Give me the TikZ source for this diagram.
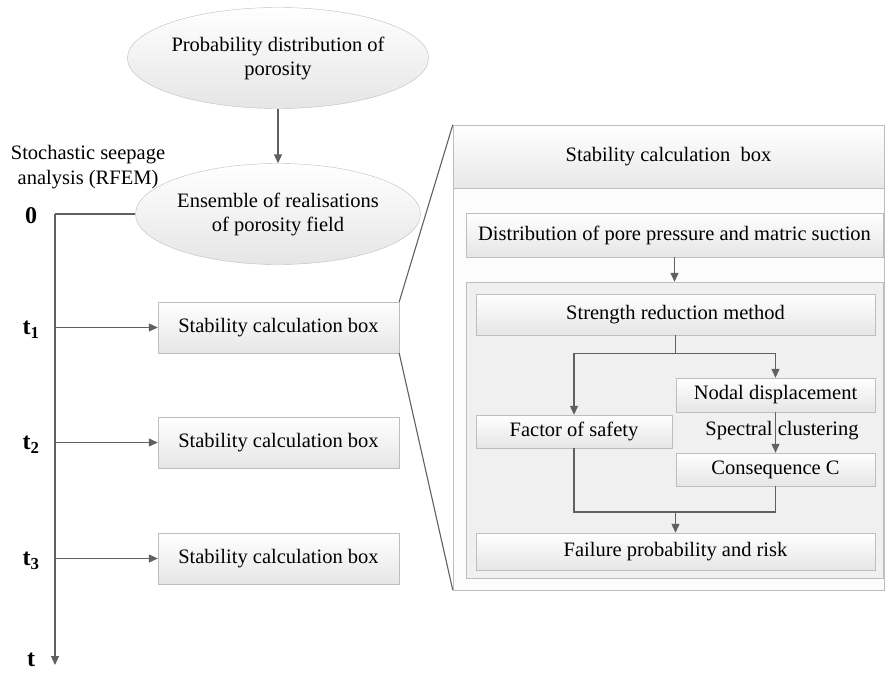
\documentclass[tikz,border=0pt]{standalone}
\usepackage{fontspec}
\setmainfont{Liberation Serif}
\usepackage{xcolor}
\definecolor{arrgray}{RGB}{96,96,96}
\definecolor{edgegray}{RGB}{190,190,190}
\usetikzlibrary{arrows.meta,positioning,shapes.geometric,calc}

\begin{document}
\begin{tikzpicture}[x=1pt,y=-1pt,
  txt/.style={font=\fontsize{20.5}{24}\selectfont,align=center,inner sep=0pt},
  stepbox/.style={txt,draw=edgegray,top color=white,bottom color=black!10,
    minimum width=#1,minimum height=34pt},
  blob/.style={txt,ellipse,draw=edgegray,top color=white,bottom color=black!10,
    minimum width=257pt,minimum height=101pt},
  tlabel/.style={font=\fontsize{24}{28}\selectfont\bfseries,inner sep=0pt},
  arr/.style={draw=arrgray,line width=1.1pt,-{Triangle[length=9pt,width=8pt]}},
  ln/.style={draw=arrgray,line width=1.1pt}
]
  \useasboundingbox (0,0) rectangle (885,672);

  % porosity inputs
  \node[blob] (pdist) at (278,58) {Probability distribution of\\porosity};
  \node[blob] (ens) at (278,214) {Ensemble of realisations\\of porosity field};
  \draw[arr] (pdist) -- (ens);

  % time axis
  \node[txt,font=\fontsize{20.5}{25}\selectfont] (rfem) at (88,167) {Stochastic seepage\\analysis (RFEM)};
  \coordinate (ax0) at (55,214);
  \coordinate (axend) at (55,665);
  \draw[ln] (ens.west) -- (ax0);
  \draw[arr] (ax0) -- (axend);
  \node[tlabel] (l0) at (31,216) {0};
  \node[tlabel] (l1) at (31,330) {t\textsubscript{1}};
  \node[tlabel] (l2) at (31,445) {t\textsubscript{2}};
  \node[tlabel] (l3) at (31,561) {t\textsubscript{3}};
  \node[tlabel] (lt) at (31,660) {t};

  % stability boxes on the axis
  \node[stepbox=241pt,minimum height=51pt] (box1) at (278.5,327.5) {Stability calculation box};
  \node[stepbox=241pt,minimum height=51pt] (box2) at (278.5,442.5) {Stability calculation box};
  \node[stepbox=241pt,minimum height=51pt] (box3) at (278.5,558.5) {Stability calculation box};
  \foreach \b in {box1,box2,box3}
    \draw[arr] (\b.west -| ax0) -- (\b.west);

  % zoomed stability box
  \node[draw=edgegray,fill=black!1,minimum width=431pt,minimum height=402pt,inner sep=0pt]
    (calcbody) at (668.5,389) {};
  \node[txt,draw=edgegray,top color=white,bottom color=black!9,minimum width=431pt,
    minimum height=63pt] (calchead) at (668.5,156.5) {Stability calculation\ \ box};
  \draw[ln] (box1.north east) -- (calchead.north west);
  \draw[ln] (box1.south east) -- (calcbody.south west);

  \node[stepbox=417pt,minimum height=44pt] (pore) at (674.5,235)
    {Distribution of pore pressure and matric suction};
  \node[draw=edgegray,fill=black!6,minimum width=417pt,minimum height=296pt,inner sep=0pt]
    (frame) at (674.5,430) {};
  \draw[arr] (pore) -- (frame);

  \node[stepbox=399pt,minimum height=41pt] (srm) at (675.5,314.5) {Strength reduction method};
  \node[stepbox=199pt] (nodal) at (775.5,395) {Nodal displacement};
  \node[stepbox=196pt,minimum height=33pt] (fos) at (574,431.5) {Factor of safety};
  \node[txt] (spec) at (782,431) {Spectral clustering};
  \node[stepbox=199pt,minimum height=33pt] (cons) at (775.5,469.5) {Consequence C};
  \node[stepbox=399pt,minimum height=37pt] (fail) at (675.5,551.5) {Failure probability and risk};

  \coordinate (split) at ($(srm.south)+(0,18)$);
  \coordinate (merge) at (675.5,512);
  \draw[ln] (srm.south) -- (split);
  \draw[arr] (split) -| (fos.north);
  \draw[arr] (split) -| (nodal.north);
  \draw[arr] (nodal.south) -- (cons.north);
  \draw[ln] (fos.south) |- (merge);
  \draw[ln] (cons.south) |- (merge);
  \draw[arr] (merge) -- (fail.north);
\end{tikzpicture}
\end{document}
